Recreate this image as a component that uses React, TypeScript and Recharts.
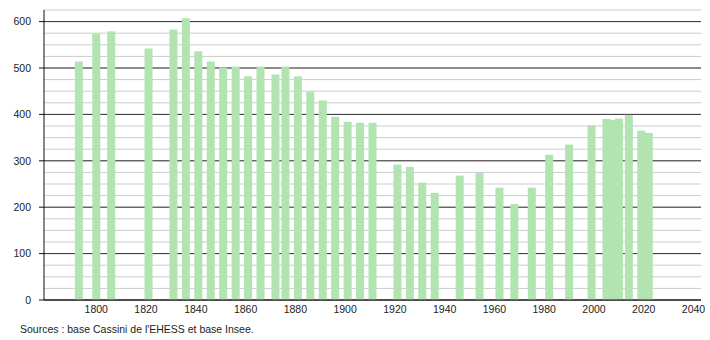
import React from 'react';
import { BarChart, Bar, XAxis, YAxis, CartesianGrid } from 'recharts';

// census years and population
const years = [
  1793, 1800, 1806, 1821, 1831, 1836, 1841, 1846, 1851, 1856, 1861, 1866, 1872,
  1876, 1881, 1886, 1891, 1896, 1901, 1906, 1911, 1921, 1926, 1931, 1936, 1946,
  1954, 1962, 1968, 1975, 1982, 1990, 1999, 2005, 2007, 2010, 2014, 2019, 2022,
];
const population = [
  514, 574, 579, 542, 583, 607, 536, 514, 501, 503, 482, 503, 486,
  503, 482, 449, 430, 395, 384, 382, 382, 292, 287, 253, 231, 268,
  274, 242, 207, 242, 313, 335, 376, 390, 388, 391, 399, 365, 360,
];

const xTicks = [1800, 1820, 1840, 1860, 1880, 1900, 1920, 1940, 1960, 1980, 2000, 2020, 2040];
const yTicks = [0, 100, 200, 300, 400, 500, 600];
const yMinorTicks = [
  0, 25, 50, 75, 100, 125, 150, 175, 200, 225, 250, 275, 300, 325, 350, 375,
  400, 425, 450, 475, 500, 525, 550, 575, 600, 625,
];

const source = "Sources : base Cassini de l'EHESS et base Insee.";

const BAR_COLOR = '#b1e4b1';
const FONT = '"Liberation Sans", Arial, sans-serif';

const data = years.map((year, i) => ({ year, pop: population[i] }));

// fixed 8px bars centred on the year, whatever band size recharts picks
const BarShape = (props: any) => {
  const { x, y, width, height } = props;
  if (!height || height <= 0) return null;
  const cx = x + width / 2;
  return <rect x={cx - 4} y={y} width={8} height={height} fill={BAR_COLOR} />;
};

export default function App() {
  return (
    <div style={{ position: 'absolute', left: 0, top: 0, width: 710, height: 340, background: '#fff' }}>
      <BarChart
        width={710}
        height={340}
        data={data}
        margin={{ top: 10, right: 9, bottom: 20, left: 0 }}
        style={{ fontFamily: FONT }}
      >
        <YAxis
          yAxisId="minor"
          type="number"
          domain={[0, 625]}
          ticks={yMinorTicks}
          interval={0}
          width={0}
          tick={false}
          tickSize={2}
          axisLine={false}
          tickLine={{ stroke: '#222' }}
        />
        <YAxis
          yAxisId="main"
          type="number"
          domain={[0, 625]}
          ticks={yTicks}
          interval={0}
          width={44}
          tickSize={5}
          tickMargin={8}
          axisLine={{ stroke: '#111' }}
          tickLine={{ stroke: '#111' }}
          tick={{ fill: '#222', fontSize: 10.5 }}
        />
        <XAxis
          dataKey="year"
          type="number"
          domain={[1779, 2043]}
          allowDataOverflow
          ticks={xTicks}
          interval={0}
          height={20}
          tickLine={false}
          tickSize={4}
          tickMargin={2}
          axisLine={{ stroke: '#111' }}
          tick={{ fill: '#222', fontSize: 10.5 }}
        />
        <CartesianGrid yAxisId="main" vertical={false} horizontalValues={yMinorTicks} stroke="#cccccc" />
        <CartesianGrid yAxisId="main" vertical={false} horizontalValues={yTicks} stroke="#333333" />
        <Bar
          yAxisId="main"
          dataKey="pop"
          fill={BAR_COLOR}
          shape={BarShape}
          isAnimationActive={false}
        />
      </BarChart>
      <div
        style={{
          position: 'absolute',
          left: 20,
          top: 324,
          fontFamily: FONT,
          fontSize: 10.5,
          lineHeight: '10px',
          color: '#222',
          whiteSpace: 'nowrap',
        }}
      >
        {source}
      </div>
    </div>
  );
}
